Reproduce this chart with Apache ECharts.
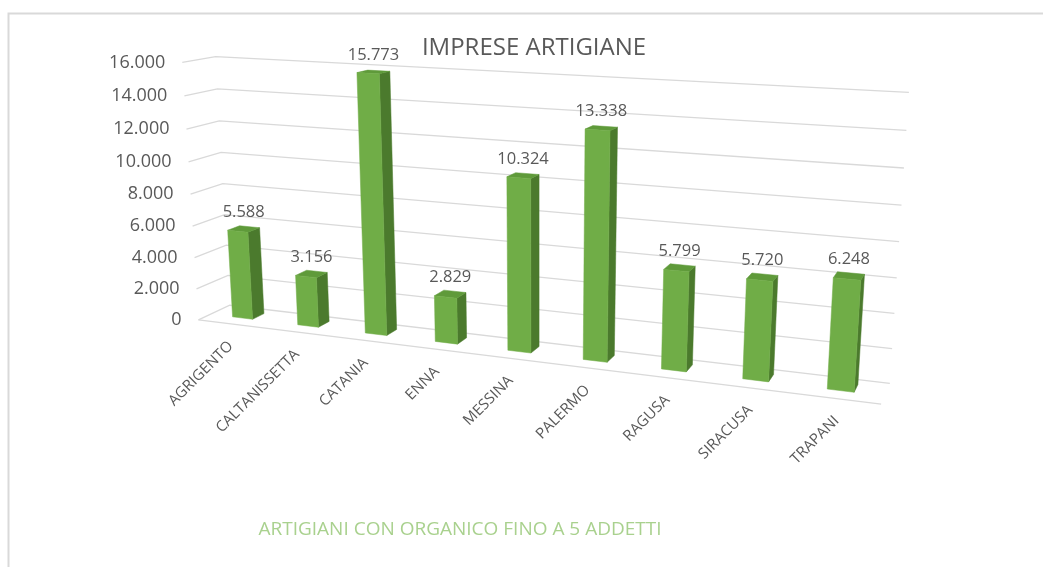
<!DOCTYPE html>
<html>
<head>
<meta charset="utf-8">
<script src="https://cdn.jsdelivr.net/npm/echarts@6/dist/echarts.min.js"></script>
<style>
  html, body { margin: 0; padding: 0; background: #fff; }
  #chart { width: 1043px; height: 567px; }
</style>
</head>
<body>
<div id="chart"></div>
<script>
// dati
const province = ['AGRIGENTO', 'CALTANISSETTA', 'CATANIA', 'ENNA', 'MESSINA', 'PALERMO', 'RAGUSA', 'SIRACUSA', 'TRAPANI'];
const artigiani = [5588, 3156, 15773, 2829, 10324, 13338, 5799, 5720, 6248];
const yTicks = [0, 2000, 4000, 6000, 8000, 10000, 12000, 14000, 16000];
const yMax = 16000;

// punti di riferimento della scatola 3D (pareti) -> pixel, per la prospettiva
// X: 0 sinistra .. 1 destra, Y: 0 .. 1 (asse valori), Z: 0 davanti .. 1 dietro
const boxRef = [
  [[0, 1, 0], [181.7, 64]], [[0, 0.875, 0], [184, 97.3]], [[0, 0.5, 0], [189.3, 192.7]],
  [[0, 0.125, 0], [196.7, 287.3]], [[0, 0, 0], [200, 318.3]],
  [[0, 1, 1], [216.7, 55.7]], [[0, 0.875, 1], [217.3, 88.3]], [[0, 0.5, 1], [223.3, 182.3]],
  [[0, 0.125, 1], [228.3, 276.7]], [[0, 0, 1], [228.5, 308.3]],
  [[1, 1, 1], [908.3, 93.3]], [[1, 0.875, 1], [907, 130]], [[1, 0.75, 1], [904, 167.3]],
  [[1, 0.625, 1], [902, 205]], [[1, 0.5, 1], [899, 241.7]], [[1, 0.375, 1], [897, 278.3]],
  [[1, 0.25, 1], [894, 313.3]], [[1, 0.125, 1], [891.7, 348.3]], [[1, 0, 1], [889.3, 381.7]],
  [[1, 0, 0], [881.7, 406]]
];

const BAR_W = 0.31;     // larghezza colonna / slot
const BAR_Z = [0.38, 0.76];
const BAR_SHIFT = 0;

const fmt = v => String(v).replace(/\B(?=(\d{3})+(?!\d))/g, '.');

// camera proiettiva 3x4 stimata ai minimi quadrati (p11 = 1)
function fitCamera(pts) {
  const N = 11;
  const M = Array.from({ length: N }, () => new Array(N + 1).fill(0));
  const add = (row, rhs) => {
    for (let a = 0; a < N; a++) {
      for (let b = 0; b < N; b++) M[a][b] += row[a] * row[b];
      M[a][N] += row[a] * rhs;
    }
  };
  pts.forEach(([[X, Y, Z], [px, py]]) => {
    const u = (px - 520) / 400, v = (py - 280) / 400;
    add([X, Y, Z, 1, 0, 0, 0, 0, -u * X, -u * Y, -u * Z], u);
    add([0, 0, 0, 0, X, Y, Z, 1, -v * X, -v * Y, -v * Z], v);
  });
  for (let c = 0; c < N; c++) {
    let piv = c;
    for (let r = c + 1; r < N; r++) if (Math.abs(M[r][c]) > Math.abs(M[piv][c])) piv = r;
    const tmp = M[c]; M[c] = M[piv]; M[piv] = tmp;
    for (let r = 0; r < N; r++) {
      if (r === c) continue;
      const f = M[r][c] / M[c][c];
      for (let k = c; k <= N; k++) M[r][k] -= f * M[c][k];
    }
  }
  const p = M.map((row, i) => row[N] / row[i]);
  return (X, Y, Z) => {
    const w = p[8] * X + p[9] * Y + p[10] * Z + 1;
    return [
      (p[0] * X + p[1] * Y + p[2] * Z + p[3]) / w * 400 + 520,
      (p[4] * X + p[5] * Y + p[6] * Z + p[7]) / w * 400 + 280
    ];
  };
}
const P = fitCamera(boxRef);

const area = pts => {
  let s = 0;
  for (let i = 0; i < pts.length; i++) {
    const a = pts[i], b = pts[(i + 1) % pts.length];
    s += a[0] * b[1] - b[0] * a[1];
  }
  return s;
};

const textColor = '#595959';
const gridColor = '#d9d9d9';

function renderGrid(params, api) {
  const t = api.value(1);
  const base = api.coord([0, 0]);
  const full = api.coord([0, yMax]);
  const Y = (base[1] - api.coord([0, t])[1]) / (base[1] - full[1]);
  const children = [{
    type: 'polyline',
    shape: { points: [P(0, Y, 0), P(0, Y, 1), P(1, Y, 1)] },
    style: { stroke: gridColor, lineWidth: 1.3, fill: null },
    silent: true
  }];
  if (t === 0) {
    children.push({
      type: 'line',
      shape: { x1: P(0, 0, 0)[0], y1: P(0, 0, 0)[1], x2: P(1, 0, 0)[0], y2: P(1, 0, 0)[1] },
      style: { stroke: gridColor, lineWidth: 1.3 },
      silent: true
    });
  }
  const lp = P(0, Y, 0);
  children.push({
    type: 'text',
    x: lp[0] - 17, y: lp[1],
    style: {
      text: fmt(t), align: 'right', verticalAlign: 'middle',
      fill: textColor, font: '18px "Open Sans"'
    },
    silent: true
  });
  return { type: 'group', children };
}

function renderBar(params, api) {
  const cs = params.coordSys;
  const i = api.value(0), v = api.value(1);
  const base = api.coord([i, 0]);
  const full = api.coord([i, yMax]);
  const h = (base[1] - api.coord([i, v])[1]) / (base[1] - full[1]);
  const slot = api.size([1, 0])[0] / cs.width;
  const xc = (base[0] - cs.x) / cs.width + BAR_SHIFT;
  const x0 = xc - slot * BAR_W / 2, x1 = xc + slot * BAR_W / 2;
  const [z0, z1] = BAR_Z;

  const faces = [
    { pts: [P(x0, 0, z0), P(x1, 0, z0), P(x1, h, z0), P(x0, h, z0)], color: '#70ad47' },
    { pts: [P(x1, 0, z0), P(x1, 0, z1), P(x1, h, z1), P(x1, h, z0)], color: '#4b7a2d' },
    { pts: [P(x0, 0, z1), P(x0, 0, z0), P(x0, h, z0), P(x0, h, z1)], color: '#4b7a2d' },
    { pts: [P(x0, h, z0), P(x1, h, z0), P(x1, h, z1), P(x0, h, z1)], color: '#5f9a3a' }
  ];
  const sign = Math.sign(area(faces[0].pts));
  const children = faces
    .filter((f, k) => k === 0 || Math.sign(area(f.pts)) === sign)
    .sort((a, b) => (a.color === '#70ad47') - (b.color === '#70ad47'))
    .map(f => ({
      type: 'polygon',
      shape: { points: f.pts },
      style: { fill: f.color, stroke: f.color, lineWidth: 0.5 }
    }));

  const lt = P(xc, h, (z0 + z1) / 2);
  children.push({
    type: 'text',
    x: lt[0], y: lt[1] - 8,
    style: {
      text: fmt(v), align: 'center', verticalAlign: 'bottom',
      fill: textColor, font: '16.5px "Open Sans"'
    }
  });

  const la = P(xc, 0, 0);
  children.push({
    type: 'text',
    x: la[0], y: la[1] + 20,
    rotation: Math.PI / 4,
    style: {
      text: province[i], x: 0, y: 0, align: 'right', verticalAlign: 'middle',
      fill: textColor, font: '15px "Open Sans"'
    }
  });
  return { type: 'group', children };
}

const chart = echarts.init(document.getElementById('chart'), null, { renderer: 'canvas' });
chart.setOption({
  animation: false,
  backgroundColor: '#fff',
  title: [{
    text: 'IMPRESE ARTIGIANE',
    left: 529, top: 31, textAlign: 'center',
    textStyle: { color: textColor, fontSize: 24, fontWeight: 'normal', fontFamily: 'Open Sans' }
  }, {
    text: 'ARTIGIANI CON ORGANICO FINO A 5 ADDETTI',
    left: 455, top: 515, textAlign: 'center',
    textStyle: { color: '#a9d18e', fontSize: 19, fontWeight: 'normal', fontFamily: 'Open Sans' }
  }],
  graphic: [{
    type: 'rect',
    shape: { x: 8.5, y: 13.5, width: 1100, height: 600 },
    style: { fill: null, stroke: '#d9d9d9', lineWidth: 2 },
    silent: true
  }],
  grid: { left: 182, top: 64, width: 700, height: 254 },
  xAxis: { type: 'category', data: province, show: false },
  yAxis: { type: 'value', min: 0, max: yMax, interval: 2000, show: false },
  series: [{
    type: 'custom',
    name: 'griglia',
    renderItem: renderGrid,
    data: yTicks.map(t => [0, t]),
    silent: true,
    z: 1
  }, {
    type: 'custom',
    name: 'ARTIGIANI CON ORGANICO FINO A 5 ADDETTI',
    renderItem: renderBar,
    data: artigiani.map((v, i) => [i, v]),
    z: 2
  }]
});
</script>
</body>
</html>
